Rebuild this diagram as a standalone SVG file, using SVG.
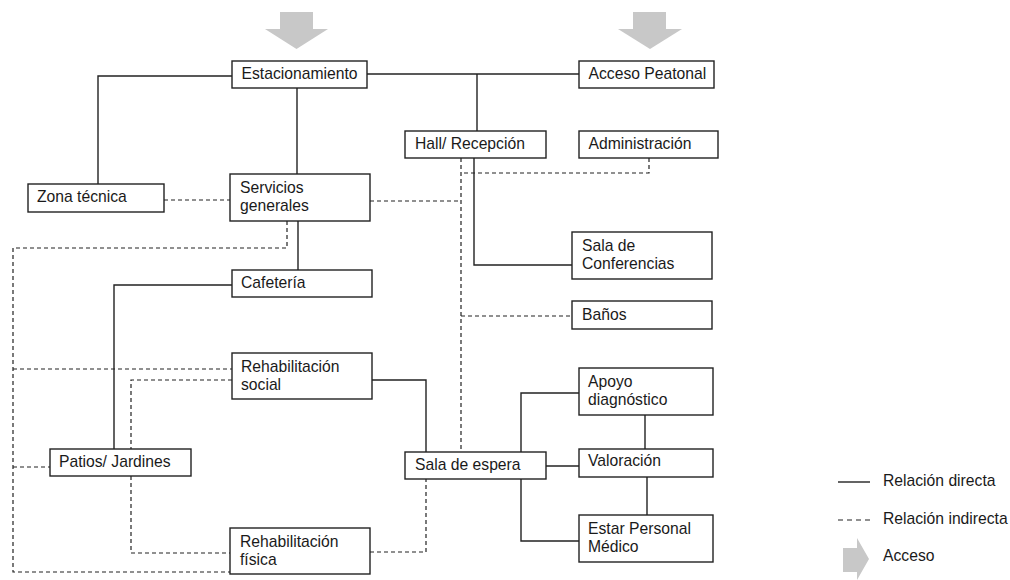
<svg xmlns="http://www.w3.org/2000/svg" width="1010" height="580" viewBox="0 0 1010 580">
<style>
.box{fill:#fff;stroke:#222;stroke-width:1.4}
.t{font-family:"Liberation Sans",Arial,sans-serif;font-size:15.7px;fill:#1a1a1a}
.s{fill:none;stroke:#222;stroke-width:1.4}
.d{fill:none;stroke:#222;stroke-width:1.2;stroke-dasharray:4,3}
.arr{fill:#c8c8c8}
</style>
<rect width="1010" height="580" fill="#fff"/>
<g id="connectors">
<polyline class="s" points="232,76 98,76 98,184"/>
<polyline class="s" points="297,88 297,174"/>
<polyline class="s" points="367,74 579,74"/>
<polyline class="s" points="477,74 477,131"/>
<polyline class="s" points="474,158 474,265 572,265"/>
<polyline class="s" points="298,221 298,270"/>
<polyline class="s" points="232,285 114,285 114,449"/>
<polyline class="s" points="372,380 426,380 426,452"/>
<polyline class="s" points="521,452 521,393 579,393"/>
<polyline class="s" points="546,466 579,466"/>
<polyline class="s" points="521,479 521,541 579,541"/>
<polyline class="s" points="645,415 645,449"/>
<polyline class="s" points="647,477 647,515"/>
<polyline class="d" points="164,200 230,200"/>
<polyline class="d" points="370,201 461,201"/>
<polyline class="d" points="461,158 461,452"/>
<polyline class="d" points="649,158 649,173 461,173"/>
<polyline class="d" points="461,316 572,316"/>
<polyline class="d" points="287,221 287,248 13,248 13,572 230,572"/>
<polyline class="d" points="13,369 232,369"/>
<polyline class="d" points="13,467 50,467"/>
<polyline class="d" points="232,380 131,380 131,449"/>
<polyline class="d" points="131,476 131,553 230,553"/>
<polyline class="d" points="370,552 426,552 426,479"/>
</g>
<g id="arrow-estacionamiento"><polygon class="arr" points="280,12 313,12 313,29 328,29 296.5,49 265,29 280,29"/></g>
<g id="arrow-peatonal"><polygon class="arr" points="633,12 666,12 666,29 682,29 650,49 618,29 633,29"/></g>
<g id="estacionamiento"><rect class="box" x="232" y="61" width="135" height="27"/><text class="t" x="241.5" y="79">Estacionamiento</text></g>
<g id="acceso-peatonal"><rect class="box" x="579" y="61" width="135" height="27"/><text class="t" x="588.5" y="79">Acceso Peatonal</text></g>
<g id="hall"><rect class="box" x="405" y="131" width="141" height="27"/><text class="t" x="415" y="149">Hall/ Recepción</text></g>
<g id="administracion"><rect class="box" x="579" y="131" width="139" height="27"/><text class="t" x="588.5" y="149">Administración</text></g>
<g id="zona-tecnica"><rect class="box" x="28" y="184" width="136" height="28"/><text class="t" x="37" y="202">Zona técnica</text></g>
<g id="servicios"><rect class="box" x="230" y="174" width="140" height="47"/><text class="t" x="240" y="193">Servicios</text><text class="t" x="240" y="210.5">generales</text></g>
<g id="sala-conferencias"><rect class="box" x="572" y="232" width="140" height="47"/><text class="t" x="582" y="251">Sala de</text><text class="t" x="582" y="268.5">Conferencias</text></g>
<g id="cafeteria"><rect class="box" x="232" y="270" width="140" height="27"/><text class="t" x="241" y="288">Cafetería</text></g>
<g id="banos"><rect class="box" x="572" y="301" width="140" height="28"/><text class="t" x="582" y="319.5">Baños</text></g>
<g id="rehab-social"><rect class="box" x="232" y="353" width="140" height="46"/><text class="t" x="241" y="372">Rehabilitación</text><text class="t" x="241" y="389.5">social</text></g>
<g id="apoyo"><rect class="box" x="579" y="368" width="134" height="47"/><text class="t" x="588" y="387">Apoyo</text><text class="t" x="588" y="404.5">diagnóstico</text></g>
<g id="patios"><rect class="box" x="50" y="449" width="141" height="27"/><text class="t" x="59" y="467">Patios/ Jardines</text></g>
<g id="sala-espera"><rect class="box" x="405" y="452" width="141" height="27"/><text class="t" x="415" y="470">Sala de espera</text></g>
<g id="valoracion"><rect class="box" x="579" y="449" width="134" height="28"/><text class="t" x="588" y="466">Valoración</text></g>
<g id="estar"><rect class="box" x="579" y="515" width="134" height="47"/><text class="t" x="588" y="534">Estar Personal</text><text class="t" x="588" y="551.5">Médico</text></g>
<g id="rehab-fisica"><rect class="box" x="230" y="528" width="140" height="46"/><text class="t" x="240" y="547">Rehabilitación</text><text class="t" x="240" y="564.5">física</text></g>
<g id="legend">
<line class="s" x1="838" y1="482" x2="870" y2="482"/>
<text class="t" x="883" y="486">Relación directa</text>
<line class="d" x1="838" y1="520" x2="870" y2="520" style="stroke-dasharray:5,4"/>
<text class="t" x="883" y="524">Relación indirecta</text>
<polygon class="arr" points="843,548 857,548 857,538 869,559 857,580 857,572 843,572"/>
<text class="t" x="883" y="561">Acceso</text>
</g>
</svg>
